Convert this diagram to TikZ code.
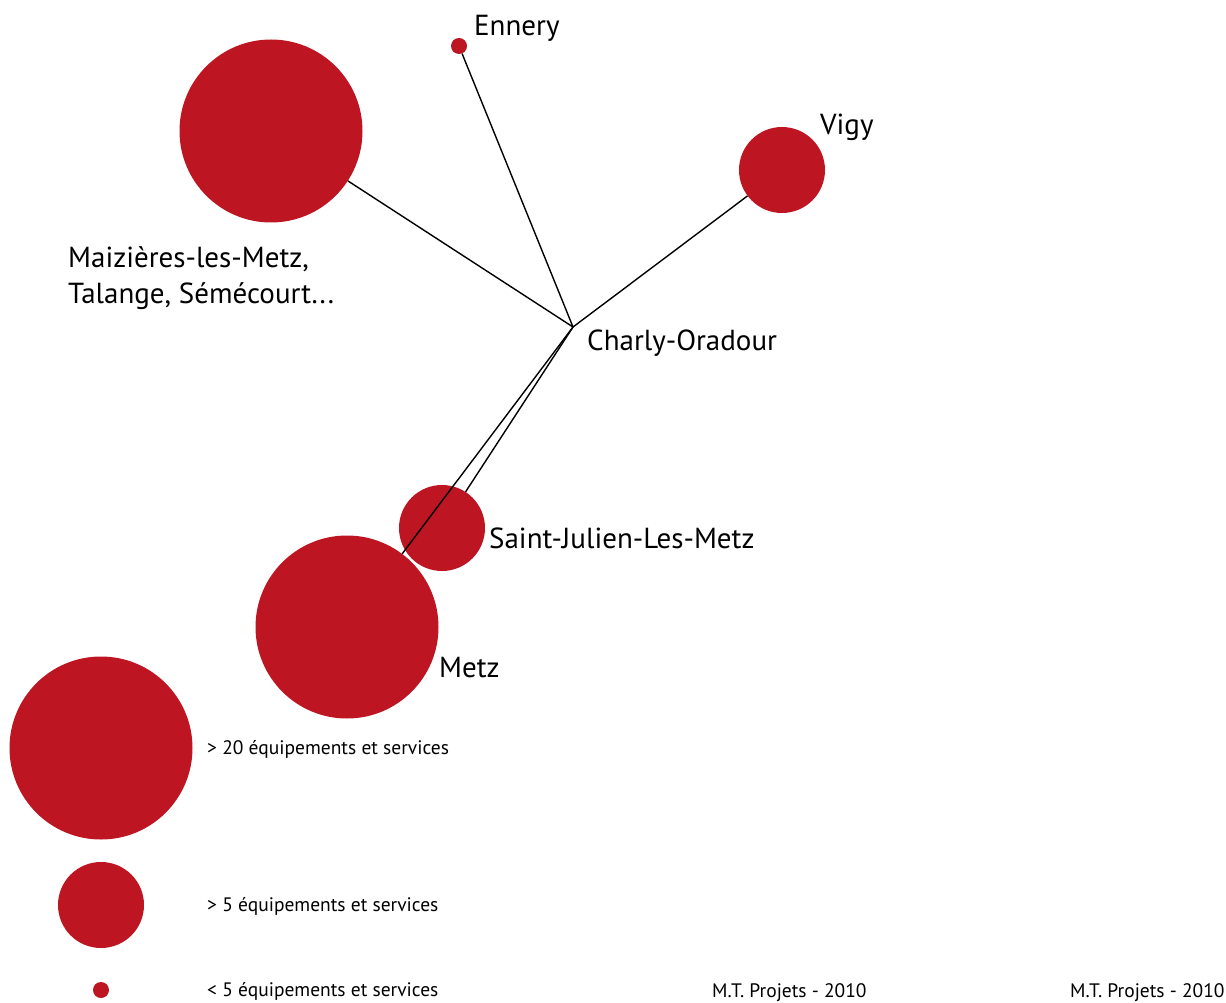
\documentclass[tikz,border=0pt]{standalone}
\usepackage{fontspec}
\setmainfont{PT Sans}
\usepackage{xcolor}
\definecolor{cityred}{RGB}{190,21,34}

\begin{document}
\begin{tikzpicture}[x=1pt, y=-1pt,
    city/.style={circle, fill=cityred, inner sep=0pt},
    cityname/.style={anchor=base west, inner sep=0pt, font=\fontsize{29}{36}\selectfont},
    legendtext/.style={anchor=base west, inner sep=0pt, font=\fontsize{19.5}{22}\selectfont},
    link/.style={line width=1.4pt, black}]
% parameters (sizes of the circles)
\def\bigsize{183pt}
\def\midsize{86pt}
\def\smallsize{16pt}
\useasboundingbox (0,0) rectangle (1226,1003);
% Draw the towns
    \node[city, minimum size=\smallsize] at (459,46) (ennery) {};
    \node[city, minimum size=\bigsize] at (271,131) (maizieres) {};
    \node[city, minimum size=\midsize] at (782,170) (vigy) {};
    \node[city, minimum size=\midsize] at (442,528) (stjulien) {};
    \node[city, minimum size=\bigsize] at (347,627) (metz) {};
    \coordinate (charly) at (573,327);
% Draw the links to Charly-Oradour
    \draw[link] (charly) -- (ennery);
    \draw[link] (charly) -- (maizieres);
    \draw[link] (charly) -- (vigy);
    \draw[link] (charly) -- (stjulien);
    \draw[link] (charly) -- (metz);
% Draw the town names
    \node[cityname] at (474,36) (ennerylabel) {Ennery};
    \node[cityname] at (820,135) (vigylabel) {Vigy};
    \node[cityname, align=left] at (68,303) (maizlabel) {Maizières-les-Metz,\\Talange, Sémécourt...};
    \node[cityname] at (587,350) (charlylabel) {Charly-Oradour};
    \node[cityname] at (489,548) (stjulienlabel) {Saint-Julien-Les-Metz};
    \node[cityname] at (439,677) (metzlabel) {Metz};
% Draw the legend
    \foreach \i/\s/\y/\t in {1/\bigsize/748/> 20, 2/\midsize/905/> 5, 3/\smallsize/990/< 5} {
        \node[city, minimum size=\s] at (101,\y) (leg\i) {};
        \node[legendtext] at (207,\y+6) (legtext\i) {\t{} équipements et services};
    }
% Draw the credits
    \node[legendtext] at (712,997) (credit1) {M.T. Projets - 2010};
    \node[legendtext] at (1070,997) (credit2) {M.T. Projets - 2010};
\end{tikzpicture}
\end{document}
